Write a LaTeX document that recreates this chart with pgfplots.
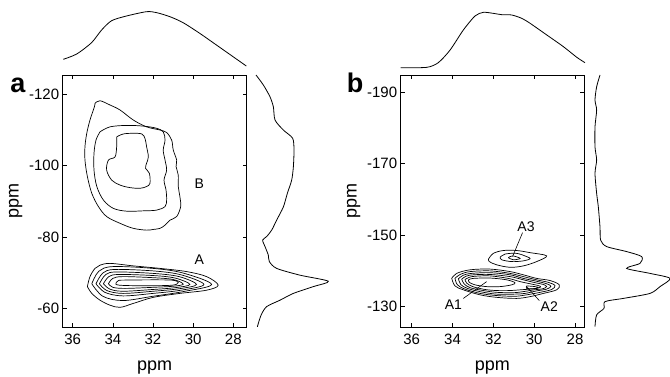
\documentclass[border=0pt]{standalone}
\usepackage{fontspec}
\setmainfont{Liberation Sans}
\usepackage{pgfplots}
\pgfplotsset{compat=1.18}
\pgfplotsset{
 mainax/.style={scale only axis, height=252pt, x dir=reverse, y dir=reverse,
  axis line style={line width=0.6pt}, tick style={line width=0.6pt, black}, major tick length=4pt,
  tick label style={font=\fontsize{15}{15}\selectfont},
  label style={font=\fontsize{18}{18}\selectfont},
  xticklabel style={yshift=-3pt},
  xlabel style={yshift=-10pt},
  /pgf/number format/assume math mode=true,
  xlabel={ppm}, ylabel={ppm},
  cycle list={{black, solid, mark=none}},
  every axis plot post/.append style={line width=0.7pt, black, mark=none, smooth, tension=0.55}},
 projax/.style={scale only axis, axis lines=none, clip=false,
  cycle list={{black, solid, mark=none}},
  every axis plot post/.append style={line width=0.8pt, black, mark=none, smooth, tension=0.45}}
}
\begin{document}
\begin{tikzpicture}
\useasboundingbox (0,0) rectangle (670pt,376pt);
% ---------------- panel a ----------------
\begin{axis}[mainax, at={(62.7pt,49pt)}, anchor=south west, width=184pt,
  xmin=27.33, xmax=36.5, ymin=-125.4, ymax=-54.9,
  xtick={28,30,32,34,36}, ytick={-120,-100,-80,-60}]
% B contours
\addplot coordinates {(34.89,-117.5)(34.64,-118.2)(34.14,-117.0)(33.64,-115.6)(32.98,-112.8)(32.32,-110.9)(31.65,-110.0)(31.32,-109.3)(31.07,-107.2)(30.99,-104.4)(30.82,-101.6)(30.85,-99.8)(30.74,-97.4)(30.74,-94.2)(30.66,-91.4)(30.62,-88.6)(30.82,-85.8)(31.15,-84.8)(31.40,-83.4)(31.65,-82.5)(31.98,-82.2)(32.32,-82.0)(32.98,-82.5)(33.64,-83.9)(34.31,-85.8)(34.72,-88.6)(35.05,-92.3)(35.27,-97.0)(35.39,-101.6)(35.39,-105.4)(35.30,-109.1)(35.14,-112.8)(34.92,-116.5)(34.89,-117.5)};
\addplot coordinates {(34.64,-109.5)(34.14,-110.9)(33.31,-111.3)(32.48,-111.1)(31.82,-110.5)(31.49,-109.5)(31.40,-107.2)(31.49,-104.4)(31.40,-101.6)(31.32,-98.8)(31.45,-96.0)(31.35,-93.2)(31.32,-90.4)(31.40,-88.6)(31.82,-87.6)(32.48,-87.4)(33.31,-87.3)(33.98,-88.1)(34.47,-90.4)(34.80,-94.2)(34.94,-98.8)(34.94,-103.5)(34.84,-107.2)(34.64,-109.5)};
\addplot coordinates {(33.81,-108.1)(33.48,-108.9)(32.98,-109.1)(32.56,-108.9)(32.40,-107.7)(32.32,-105.4)(32.23,-102.5)(32.32,-100.7)(32.37,-99.3)(32.18,-97.9)(32.15,-95.1)(32.32,-94.2)(32.65,-93.7)(33.15,-93.9)(33.64,-94.6)(34.06,-96.0)(34.31,-98.8)(34.22,-101.6)(33.89,-102.5)(33.81,-105.4)(33.81,-108.1)};
% A contours
\addplot coordinates {(35.27,-66.2)(35.14,-69.0)(34.89,-71.3)(34.64,-72.2)(34.14,-72.7)(32.98,-72.0)(31.65,-71.3)(30.32,-70.4)(29.33,-69.0)(28.75,-66.6)(29.33,-65.2)(30.66,-64.3)(31.98,-63.2)(32.98,-61.5)(33.64,-60.4)(34.14,-61.0)(34.64,-62.4)(35.05,-64.3)(35.27,-66.2)};
\addplot coordinates {(35.05,-67.0)(34.7,-70.5)(34.0,-71.8)(32.0,-71.3)(30.5,-70.0)(29.08,-66.8)(30.5,-64.8)(32.0,-63.5)(33.5,-62.3)(34.5,-63.5)(35.05,-67.0)};
\addplot coordinates {(34.84,-67.0)(34.5,-70.0)(33.9,-71.0)(32.0,-70.6)(30.6,-69.5)(29.46,-66.8)(30.6,-65.2)(32.0,-64.3)(33.5,-63.6)(34.4,-64.6)(34.84,-67.0)};
\addplot coordinates {(34.67,-67.0)(34.35,-69.6)(33.8,-70.3)(32.0,-69.9)(30.7,-69.0)(29.83,-66.8)(30.7,-65.6)(32.0,-64.9)(33.5,-64.3)(34.3,-65.1)(34.67,-67.0)};
\addplot coordinates {(34.47,-67.0)(34.2,-69.0)(33.7,-69.6)(32.0,-69.3)(30.9,-68.6)(30.16,-66.8)(30.9,-65.9)(32.0,-65.4)(33.5,-64.9)(34.15,-65.5)(34.47,-67.0)};
\addplot coordinates {(34.22,-67.0)(34.0,-68.5)(33.5,-69.0)(32.0,-68.7)(31.0,-68.2)(30.49,-66.9)(31.0,-66.3)(32.0,-66.0)(33.4,-65.7)(34.0,-66.0)(34.22,-67.0)};
\addplot[sharp plot] coordinates {(33.68,-68.0)(31.04,-68.0)(31.04,-66.6)(33.68,-66.6)(33.68,-68.0)};
\node[font=\fontsize{14}{14}\selectfont] at (axis cs:29.69,-73.8) {A};
\node[font=\fontsize{14}{14}\selectfont] at (axis cs:29.69,-94.9) {B};
\end{axis}
% top projection a
\begin{axis}[projax, at={(62.7pt,306pt)}, anchor=south west, width=184pt, height=60pt,
  xmin=27.33, xmax=36.5, x dir=reverse, ymin=0, ymax=1]
\addplot coordinates {(36.47,0.178)(35.80,0.267)(35.06,0.456)(34.56,0.667)(34.06,0.822)(33.32,0.9)(32.32,0.972)(31.82,0.956)(31.16,0.889)(30.50,0.789)(29.67,0.611)(28.84,0.417)(28.01,0.222)(27.35,0.067)};
\end{axis}
% right projection a
\begin{axis}[projax, at={(254pt,49pt)}, anchor=south west, width=80pt, height=252pt,
  xmin=0, xmax=1, ymin=-125.4, ymax=-54.9, y dir=reverse]
\addplot[tension=0.35] coordinates {(0.025,-125.4)(0.117,-122.6)(0.2,-119.3)(0.242,-116.5)(0.263,-112.8)(0.367,-110.0)(0.483,-107.7)(0.5,-104.4)(0.492,-99.7)(0.471,-96.0)(0.417,-92.3)(0.367,-88.5)(0.283,-84.8)(0.221,-82.0)(0.158,-80.2)(0.108,-79.2)(0.138,-77.4)(0.179,-75.0)(0.192,-73.2)(0.283,-71.3)(0.575,-69.4)(0.929,-67.7)(0.742,-66.2)(0.492,-64.3)(0.325,-62.4)(0.158,-60.6)(0.088,-58.2)(0.042,-54.96)};
\end{axis}
\node[anchor=base, font=\fontsize{27}{27}\selectfont\bfseries] at (18pt,284pt) {a};
% ---------------- panel b ----------------
\begin{axis}[mainax, at={(400.7pt,49pt)}, anchor=south west, width=183.3pt,
  xmin=27.56, xmax=36.54, ymin=-194.8, ymax=-124.3,
  xtick={28,30,32,34,36}, ytick={-190,-170,-150,-130}]
\addplot coordinates {(34.04,-137.9)(33.80,-139.3)(33.14,-140.3)(32.16,-140.5)(31.18,-139.8)(30.53,-138.9)(29.88,-137.9)(29.22,-137.3)(28.77,-136.1)(28.90,-134.7)(29.55,-133.7)(30.20,-132.8)(30.86,-132.3)(31.84,-132.6)(32.65,-133.3)(33.47,-134.7)(33.88,-135.8)(34.04,-137.9)};
\addplot coordinates {(33.88,-137.9)(33.63,-139.0)(33.14,-139.8)(32.16,-140.0)(31.18,-139.3)(30.53,-138.4)(29.88,-137.5)(29.31,-136.8)(28.98,-135.9)(29.14,-134.8)(29.71,-134.0)(30.37,-133.3)(30.94,-132.9)(31.84,-133.1)(32.65,-133.7)(33.39,-134.9)(33.76,-136.1)(33.88,-137.9)};
\addplot coordinates {(33.71,-137.8)(33.47,-138.8)(33.06,-139.3)(32.16,-139.5)(31.18,-138.9)(30.53,-137.9)(29.88,-137.1)(29.39,-136.4)(29.18,-135.7)(29.39,-134.9)(29.88,-134.4)(30.45,-133.7)(30.94,-133.5)(31.84,-133.5)(32.57,-134.1)(33.27,-135.1)(33.60,-136.2)(33.71,-137.8)};
\addplot coordinates {(33.55,-137.7)(33.34,-138.5)(32.98,-138.9)(32.16,-139.0)(31.18,-138.4)(30.53,-137.5)(29.96,-136.7)(29.55,-136.2)(29.39,-135.6)(29.58,-135.0)(30.01,-134.7)(30.53,-134.2)(31.02,-133.9)(31.84,-134.0)(32.49,-134.5)(33.14,-135.3)(33.44,-136.4)(33.55,-137.7)};
\addplot coordinates {(33.39,-137.6)(33.18,-138.2)(32.90,-138.5)(32.16,-138.6)(31.27,-137.9)(30.69,-137.0)(30.12,-136.3)(29.80,-135.9)(29.68,-135.5)(29.88,-135.1)(30.20,-134.9)(30.69,-134.7)(31.18,-134.5)(31.84,-134.5)(32.41,-134.8)(33.01,-135.6)(33.31,-136.6)(33.39,-137.6)};
\addplot coordinates {(33.22,-137.5)(32.98,-137.9)(32.16,-138.0)(31.35,-137.5)(30.94,-136.7)(31.10,-136.1)(31.67,-135.6)(32.33,-135.6)(32.90,-136.1)(33.18,-136.8)(33.22,-137.5)};
\addplot coordinates {(30.37,-135.8)(29.96,-135.6)(29.80,-135.3)(30.04,-135.0)(30.37,-135.1)(30.37,-135.8)};
% A3
\addplot coordinates {(32.24,-143.3)(32.0,-144.9)(31.51,-145.7)(30.86,-145.7)(30.20,-145.1)(29.39,-144.2)(29.88,-142.6)(30.53,-141.4)(31.18,-141.0)(31.84,-141.7)(32.20,-142.6)(32.24,-143.3)};
\addplot coordinates {(31.67,-143.8)(31.43,-144.7)(30.86,-144.9)(30.37,-144.0)(30.20,-143.4)(30.53,-142.8)(31.10,-142.6)(31.59,-143.1)(31.67,-143.8)};
\addplot[sharp plot] coordinates {(31.27,-143.7)(31.06,-144.2)(30.69,-143.5)(31.02,-143.1)(31.27,-143.7)};
\draw[line width=0.6pt] (axis cs:30.57,-150.7) -- (axis cs:31.06,-144.0);
\draw[line width=0.6pt] (axis cs:33.47,-132.3) -- (axis cs:32.33,-137.0);
\draw[line width=0.6pt] (axis cs:29.75,-131.7) -- (axis cs:30.37,-135.6);
\node[font=\fontsize{14}{14}\selectfont] at (axis cs:30.40,-152.4) {A3};
\node[font=\fontsize{14}{14}\selectfont] at (axis cs:33.96,-130.5) {A1};
\node[font=\fontsize{14}{14}\selectfont] at (axis cs:29.26,-130.0) {A2};
\end{axis}
% top projection b
\begin{axis}[projax, at={(400.7pt,306pt)}, anchor=south west, width=183.3pt, height=60pt,
  xmin=27.56, xmax=36.54, x dir=reverse, ymin=0, ymax=1]
\addplot coordinates {(36.54,0.039)(35.27,0.044)(34.70,0.122)(34.12,0.333)(33.47,0.667)(32.90,0.9)(32.49,0.961)(32.00,0.944)(31.59,0.922)(31.10,0.917)(30.61,0.861)(30.20,0.778)(29.38,0.583)(28.57,0.389)(27.91,0.211)(27.51,0.122)};
\end{axis}
% right projection b
\begin{axis}[projax, at={(594pt,49pt)}, anchor=south west, width=80pt, height=252pt,
  xmin=0, xmax=1, ymin=-194.8, ymax=-124.3, y dir=reverse]
\addplot[tension=0.35] coordinates {(0.075,-194.8)(0.033,-191.5)(0.0125,-187.8)(0.033,-185.0)(0.0125,-180.3)(0.0125,-174.7)(0.033,-171.0)(0.0125,-167.3)(0.033,-161.7)(0.054,-157.9)(0.075,-152.3)(0.083,-148.6)(0.158,-146.8)(0.408,-145.4)(0.596,-144.0)(0.575,-142.1)(0.408,-140.7)(0.7,-139.3)(0.95,-137.9)(0.825,-135.6)(0.7,-133.7)(0.367,-132.3)(0.1375,-131.4)(0.125,-129.5)(0.033,-127.7)(0.0125,-124.4)};
\end{axis}
\node[anchor=base, font=\fontsize{27}{27}\selectfont\bfseries] at (355pt,284pt) {b};
\end{tikzpicture}
\end{document}
